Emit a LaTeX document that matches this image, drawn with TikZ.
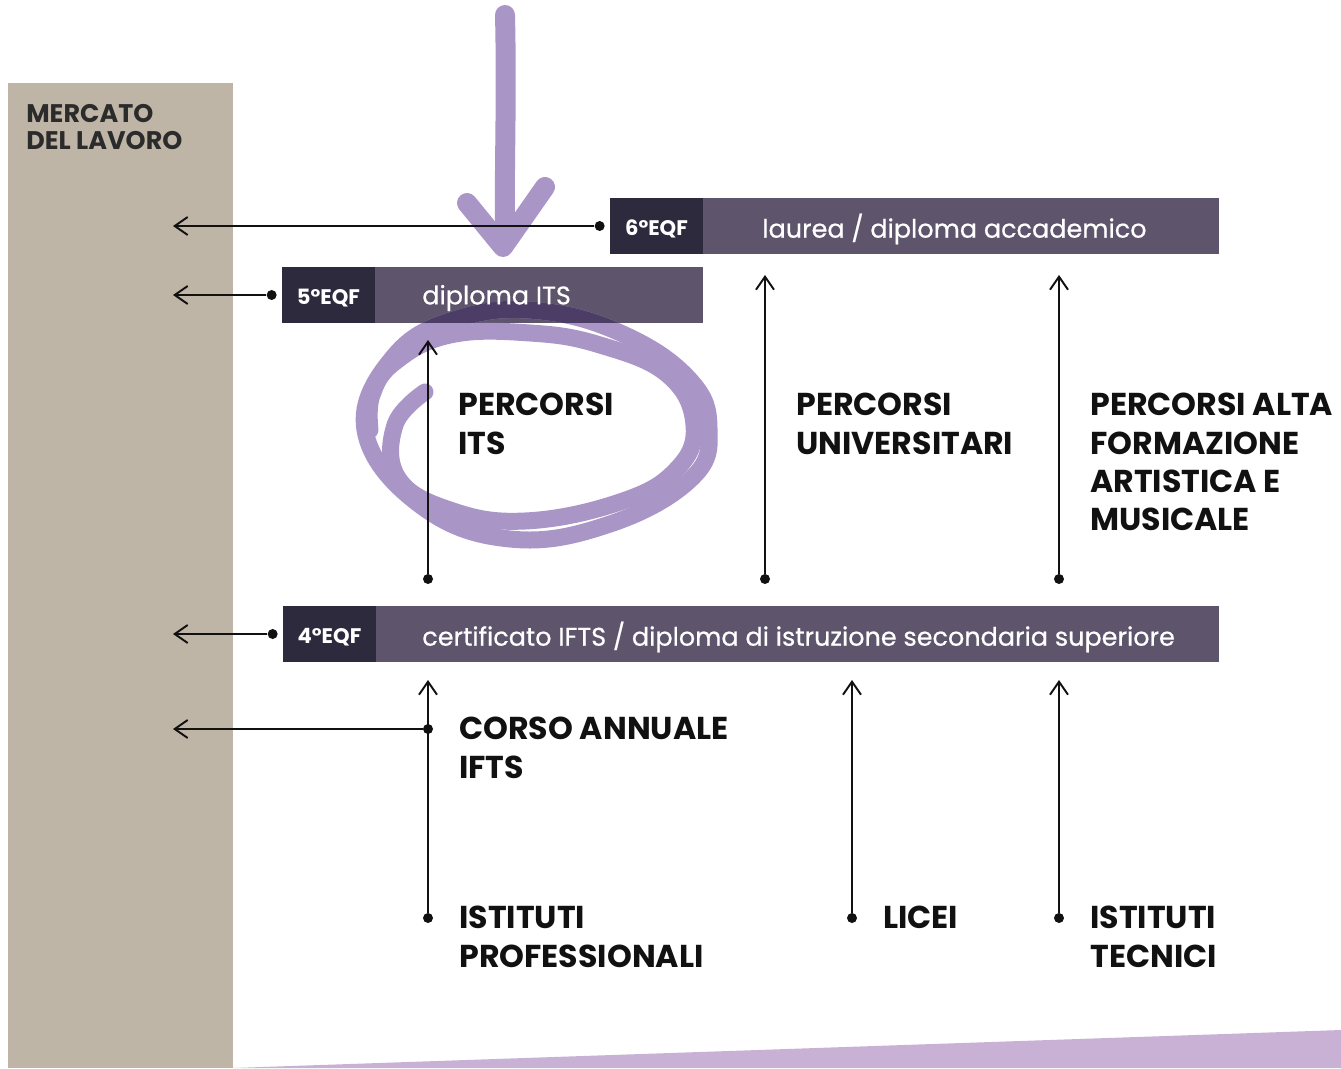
\documentclass[tikz,border=0pt]{standalone}
\usepackage{fontspec}
\setmainfont{Poppins}
\newfontfamily\medio[FakeBold=0.6]{Poppins}
\usetikzlibrary{arrows.meta}
\usetikzlibrary{positioning}
\definecolor{sabbia}{HTML}{BFB5A6}
\definecolor{notte}{HTML}{2E2A3E}
\definecolor{prugna}{HTML}{5E556D}
\definecolor{lilla}{HTML}{AA95C7}
\definecolor{lillascuro}{HTML}{4B3D66}
\definecolor{lillachiaro}{HTML}{C8B1D4}
\definecolor{grigio}{HTML}{2B2B2B}
\definecolor{inchiostro}{HTML}{111111}
\tikzset{
  eqf/.style={fill=notte,text=white,font=\fontsize{12}{14}\selectfont\bfseries,
    text height=0.38cm,text depth=0cm,
    minimum width=1.86cm,minimum height=1.12cm,inner sep=0pt,outer sep=0pt,anchor=west},
  barra/.style={fill=prugna,minimum height=1.12cm,inner sep=0pt,outer sep=0pt},
  testobarra/.style={text=white,font=\fontsize{14.5}{16}\medio,inner sep=0pt,yshift=-0.06cm},
  punto/.style={circle,fill=inchiostro,inner sep=0pt,minimum size=0.2cm},
  freccia/.style={draw=inchiostro,line width=1.1pt,-{Straight Barb[length=0.26cm,width=0.36cm]}},
  voce/.style={anchor=north west,inner sep=0pt,align=left,text=inchiostro,
    font=\fontsize{18}{21.8}\selectfont\bfseries},
  tratto/.style={draw=lilla,line width=0.4cm,line cap=round,line join=round},
  cerchio/.style={draw=lilla,line width=0.34cm,line cap=round}
}
% anello disegnato a mano attorno ai percorsi ITS
\newcommand{\anello}[1]{%
  \draw[cerchio,#1] plot[smooth cycle,tension=0.7] coordinates
    {(365,430) (395,355) (460,318) (540,311) (625,335) (690,380) (709,428)
     (692,478) (610,524) (510,539) (420,505)};
  \draw[cerchio,#1] plot[smooth,tension=0.7] coordinates
    {(425,392) (395,425) (398,478) (450,510) (525,521) (620,502) (676,470) (694,425)
     (668,375) (600,345) (530,333) (450,335) (395,362) (372,395) (370,430)};}

\begin{document}
\begin{tikzpicture}[x=0.02cm,y=-0.02cm]
	\useasboundingbox (0,0) rectangle (1341,1068);
	\fill[sabbia] (8,83) rectangle (233,1068);
	\fill[lillachiaro] (233,1068) -- (1341,1030) -- (1341,1068) -- cycle;
	\node[anchor=north west,inner sep=0pt,align=left,text=grigio,
	  font=\fontsize{14.5}{15.4}\selectfont\bfseries] (mercato) at (26,104) {MERCATO\\DEL LAVORO};

	% livelli EQF
	\node[eqf] (e6) at (610,226) {6°EQF};
	\node[barra,minimum width=10.32cm,right=0pt of e6] (b6) {};
	\node[eqf] (e5) at (282,295) {5°EQF};
	\node[barra,minimum width=6.56cm,right=0pt of e5] (b5) {};
	\node[eqf] (e4) at (283,634) {4°EQF};
	\node[barra,minimum width=16.86cm,right=0pt of e4] (b4) {};

	% freccia e cerchio a mano
	\draw[tratto] (505,15) .. controls (507,100) and (504,170) .. (505,240);
	\draw[tratto] (467,203) -- (503,247) -- (545,187);
	\anello{}
	\begin{scope}
		\clip (b5.south west) rectangle (b5.north east);
		\anello{draw=lillascuro}
	\end{scope}

	\node[testobarra,right=1.18cm of e6] (t6) {laurea / diploma accademico};
	\node[testobarra,right=0.94cm of e5] (t5) {diploma ITS};
	\node[testobarra,right=0.92cm of e4] (t4) {certificato IFTS / diploma di istruzione secondaria superiore};

	% uscite verso il mercato del lavoro
	\coordinate (bordo) at (173,0);
	\node[punto,left=0.1cm of e6] (d6) {};
	\node[punto,left=0.1cm of e5] (d5) {};
	\node[punto,left=0.1cm of e4] (d4) {};
	\node[punto] (c1) at (428,729) {};
	\draw[freccia] (d6) -- (d6 -| bordo);
	\draw[freccia] (d5) -- (d5 -| bordo);
	\draw[freccia] (d4) -- (d4 -| bordo);
	\draw[freccia] (c1) -- (c1 -| bordo);

	% percorsi
	\node[punto] (p1) at (428,579) {};
	\node[punto] (p2) at (765,579) {};
	\node[punto] (p3) at (1059,579) {};
	\node[punto] (q1) at (428,918) {};
	\node[punto] (q2) at (852,918) {};
	\node[punto] (q3) at (1059,918) {};
	\draw[freccia] (p1) -- ([yshift=-0.34cm]p1 |- b5.south);
	\draw[freccia] (p2) -- ([yshift=-0.42cm]p2 |- b6.south);
	\draw[freccia] (p3) -- ([yshift=-0.42cm]p3 |- b6.south);
	\draw[freccia] (q1) -- ([yshift=-0.36cm]q1 |- b4.south);
	\draw[freccia] (q2) -- ([yshift=-0.36cm]q2 |- b4.south);
	\draw[freccia] (q3) -- ([yshift=-0.36cm]q3 |- b4.south);

	\node[voce] (its) at (458,393) {PERCORSI\\ITS};
	\node[voce] (uni) at (796,393) {PERCORSI\\UNIVERSITARI};
	\node[voce] (afam) at (1090,393) {PERCORSI ALTA\\FORMAZIONE\\ARTISTICA E\\MUSICALE};
	\node[voce] (ifts) at (459,717) {CORSO ANNUALE\\IFTS};
	\node[voce] (prof) at (459,906) {ISTITUTI\\PROFESSIONALI};
	\node[voce] (licei) at (883,906) {LICEI};
	\node[voce] (tec) at (1090,906) {ISTITUTI\\TECNICI};
\end{tikzpicture}
\end{document}
